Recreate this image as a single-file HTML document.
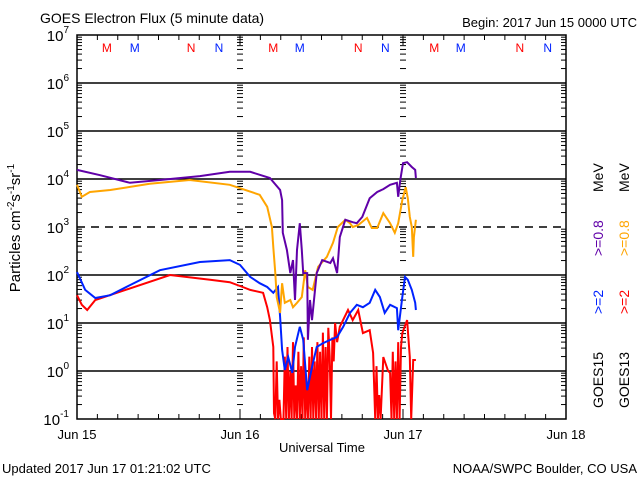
<!DOCTYPE html>
<html><head><meta charset="utf-8"><style>
html,body{margin:0;padding:0;background:#fff;}
svg{display:block;font-family:"Liberation Sans",sans-serif;}
</style></head><body>
<svg id="chart" width="640" height="480" viewBox="0 0 640 480" xmlns="http://www.w3.org/2000/svg">
<rect width="640" height="480" fill="#fff"/>
<text x="40" y="23" font-size="14">GOES Electron Flux (5 minute data)</text>
<text x="637" y="27" font-size="13" text-anchor="end">Begin: 2017 Jun 15 0000 UTC</text>
<text x="322" y="452" font-size="13" text-anchor="middle">Universal Time</text>
<text x="2" y="473" font-size="13">Updated 2017 Jun 17 01:21:02 UTC</text>
<text x="637" y="473" font-size="13" text-anchor="end">NOAA/SWPC Boulder, CO USA</text>
<text transform="translate(20,228) rotate(-90)" font-size="15" text-anchor="middle">Particles cm<tspan font-size="10" dy="-6">-2</tspan><tspan dy="6">s</tspan><tspan font-size="10" dy="-6">-1</tspan><tspan dy="6">sr</tspan><tspan font-size="10" dy="-6">-1</tspan></text>
<g font-size="14">
<text transform="translate(603,408) rotate(-90)">GOES15</text>
<text transform="translate(603,314) rotate(-90)" fill="#0022ff">&gt;=2</text>
<text transform="translate(603,256) rotate(-90)" fill="#6000a8">&gt;=0.8</text>
<text transform="translate(603,192) rotate(-90)">MeV</text>
<text transform="translate(629,408) rotate(-90)">GOES13</text>
<text transform="translate(629,314) rotate(-90)" fill="#ff0000">&gt;=2</text>
<text transform="translate(629,256) rotate(-90)" fill="#ffa500">&gt;=0.8</text>
<text transform="translate(629,192) rotate(-90)">MeV</text>
</g>
<g id="axes"></g>
<g id="series"></g>
</svg>
<script>
const dayLabels = ["Jun 15","Jun 16","Jun 17","Jun 18"];
const yExponents = [7,6,5,4,3,2,1,0,-1];
const markerLabels = ["M","M","N","N","M","M","N","N","M","M","N","N"];
const markerHours = [4.4,8.5,16.8,20.9,28.9,32.8,41.4,45.4,52.6,56.5,65.2,69.3];
const markerColors = ["#ff0000","#0022ff","#ff0000","#0022ff","#ff0000","#0022ff","#ff0000","#0022ff","#ff0000","#0022ff","#ff0000","#0022ff"];
// series: hours since Jun 15 00:00 and log10 flux
const purpleHours = [0,3.4,7.8,12.2,18.1,22.5,25.5,28.4,29.9,30.2,30.3,30.9,31.4,31.8,32.1,32.4,32.8,33.1,33.3,33.9,34.0,34.3,34.6,34.9,35.3,36.1,37.3,37.7,38.3,38.7,39.5,40.6,41.2,42.0,43.1,44.2,45.1,46.1,47.1,47.3,47.6,48.0,48.6,49.3,49.8,49.9];
const purpleLog = [4.19,4.08,3.92,3.98,4.06,4.15,4.15,4.02,3.77,3.56,2.88,2.52,2.04,2.31,1.48,2.52,3.08,2.52,2.04,2.04,0.65,1.48,1.06,1.48,2.04,2.31,2.25,2.35,2.04,2.79,3.15,3.10,3.08,3.21,3.60,3.73,3.79,3.88,3.92,3.63,3.98,4.33,4.35,4.25,4.19,4.02];
const orangeHours = [0,0.7,1.9,4.9,10.7,16.6,22.5,26.9,28.0,28.7,28.9,29.2,29.4,29.9,30.2,30.6,31.4,31.8,32.4,33.1,33.6,34.0,34.7,35.5,36.8,37.7,38.4,39.5,40.2,40.6,41.4,42.7,43.4,44.2,45.1,46.1,46.8,47.3,47.9,48.4,48.7,49.0,49.3,49.5,49.6,49.9];
const orangeLog = [3.88,3.63,3.73,3.77,3.90,3.98,3.88,3.67,3.42,3.00,2.58,2.04,1.54,1.21,1.83,1.42,1.48,1.33,1.42,1.54,2.10,1.75,1.69,2.17,2.38,2.67,3.00,3.15,3.08,3.00,3.04,3.19,2.98,2.98,3.29,3.08,2.88,3.08,3.56,3.83,3.60,3.21,3.00,2.38,2.79,3.15];
const blueHours = [0,1.2,2.7,4.9,7.8,12.2,18.1,22.5,24.0,25.5,26.9,28.0,28.9,29.6,29.9,30.2,30.6,31.1,31.7,32.1,32.8,33.3,33.9,34.6,35.3,36.2,37.3,38.3,39.2,40.2,41.2,42.1,43.1,43.9,44.6,45.3,46.1,47.1,47.3,47.9,48.3,48.7,49.3,49.8,49.9];
const blueLog = [2.06,1.69,1.52,1.58,1.79,2.10,2.27,2.31,2.21,1.96,1.83,1.75,1.63,1.75,1.13,0.44,0.02,0.29,-0.04,0.50,0.92,0.65,-0.40,0.08,0.50,0.58,0.65,0.71,0.92,1.21,1.38,1.33,1.42,1.69,1.54,1.21,1.38,1.31,0.85,1.54,1.96,1.90,1.69,1.42,1.27];
const redHours = [0,0.7,1.5,2.7,6.3,13.7,19.6,22.5,24.4,25.5,27.4,28.0,28.4,28.9,29.0,29.2,29.4,29.6,29.8,30.0,30.4,30.6,30.8,31.0,31.2,31.4,31.6,31.8,32.0,32.2,32.4,32.6,32.8,33.0,33.2,33.4,33.6,33.8,34.0,34.2,34.4,34.6,34.8,35.0,35.2,35.4,35.6,35.8,36.0,36.2,36.4,36.6,36.8,37.0,37.2,37.4,37.6,37.8,38.0,38.3,38.7,39.9,40.6,41.4,42.1,43.1,43.6,43.9,44.1,44.3,44.5,44.7,45.1,45.8,46.1,46.3,46.5,46.7,46.9,47.1,47.3,47.5,47.7,47.9,48.6,49.0,49.2,49.5,49.9];
const redLog = [1.58,1.38,1.27,1.48,1.65,2.00,1.90,1.85,1.75,1.69,1.63,1.33,1.06,0.50,-0.88,-1,0.2,-1,-0.6,-1,-1,0.3,-1,0.5,-1,0.0,-1,0.6,-1,-0.3,-1,0.4,-1,0.1,-1,0.7,-1,-0.2,-1,0.3,-1,0.5,-1,0.2,-1,0.6,-1,0.4,-1,0.8,-1,0.5,-1,0.9,0.3,-1,0.7,0.2,1.0,0.6,0.92,1.27,1.06,1.27,0.79,0.85,0.38,-1,0.1,-1,-0.5,-1,0.29,0.0,-0.04,-1,0.4,-1,0.2,-1,0.6,-1,0.5,0.79,1.06,0.29,-1,0.23,0.23];

const X0=77, X1=566, Y0=35, Y1=419;
const NS="http://www.w3.org/2000/svg";
function xs(h){return X0+(h/72)*(X1-X0);}
function ys(lg){lg=Math.max(-1,Math.min(7,lg));return Y0+(7-lg)/8*(Y1-Y0);}
function mk(tag,attrs,parent){const e=document.createElementNS(NS,tag);for(const k in attrs)e.setAttribute(k,attrs[k]);parent.appendChild(e);return e;}
const axes=document.getElementById('axes'), series=document.getElementById('series');

// gridlines
yExponents.forEach(function(ex){
  if(ex===7||ex===-1)return;
  const l=mk('line',{x1:X0,x2:X1,y1:ys(ex),y2:ys(ex),stroke:'#000','stroke-width':1.5},axes);
  
  
  if(ex===3)l.setAttribute('stroke-dasharray','8,6');
});
// plot frame
const fr=mk('rect',{x:X0,y:Y0,width:X1-X0,height:Y1-Y0,fill:'none',stroke:'#000','stroke-width':1.5},axes);


// log minor ticks on left, day lines, right
[0,24,48,72].forEach(function(h,i){
  const x=xs(h);
  for(let d=-1;d<7;d++){
    for(let m=2;m<=9;m++){
      const y=ys(d+Math.log10(m));
      if(i===0) mk('line',{x1:x,x2:x+5,y1:y,y2:y,stroke:'#000','stroke-width':1},axes);
      else if(i===3) mk('line',{x1:x-5,x2:x,y1:y,y2:y,stroke:'#000','stroke-width':1},axes);
      else mk('line',{x1:x-3,x2:x+3,y1:y,y2:y,stroke:'#000','stroke-width':1},axes);
    }
  }
  const lab=mk('text',{x:x,y:439,'font-size':13,'text-anchor':'middle'},axes);
  lab.textContent=dayLabels[i];
  
  
});
// time ticks every 3h
for(let h=3;h<72;h+=3){
  const x=xs(h), len=(h%24===0)?10:5;
  mk('line',{x1:x,x2:x,y1:Y1,y2:Y1-len,stroke:'#000','stroke-width':1},axes);
  mk('line',{x1:x,x2:x,y1:Y0,y2:Y0+len,stroke:'#000','stroke-width':1},axes);
}
// y labels
yExponents.forEach(function(ex){
  const t=mk('text',{x:69,y:ys(ex)+6,'font-size':15,'text-anchor':'end'},axes);
  t.textContent='10';
  const s=mk('tspan',{'font-size':10,dy:-8},t);
  s.textContent=String(ex);
  
  
});
// markers
markerHours.forEach(function(h,i){
  const t=mk('text',{x:xs(h),y:52,'font-size':12,'text-anchor':'middle',fill:markerColors[i]},axes);
  t.textContent=markerLabels[i];
  
  
});
function drawSeries(hours,logs,color,name){
  let d='';
  hours.forEach(function(h,i){d+=(i?'L':'M')+xs(h).toFixed(1)+','+ys(logs[i]).toFixed(1);});
  const p=mk('path',{d:d,fill:'none',stroke:color,'stroke-width':2,'stroke-linejoin':'miter'},series);
  
  
}
drawSeries(redHours,redLog,'#ff0000','series-goes13-2mev');
drawSeries(blueHours,blueLog,'#0022ff','series-goes15-2mev');
drawSeries(orangeHours,orangeLog,'#ffa500','series-goes13-08mev');
drawSeries(purpleHours,purpleLog,'#6000a8','series-goes15-08mev');
</script>
</body></html>
